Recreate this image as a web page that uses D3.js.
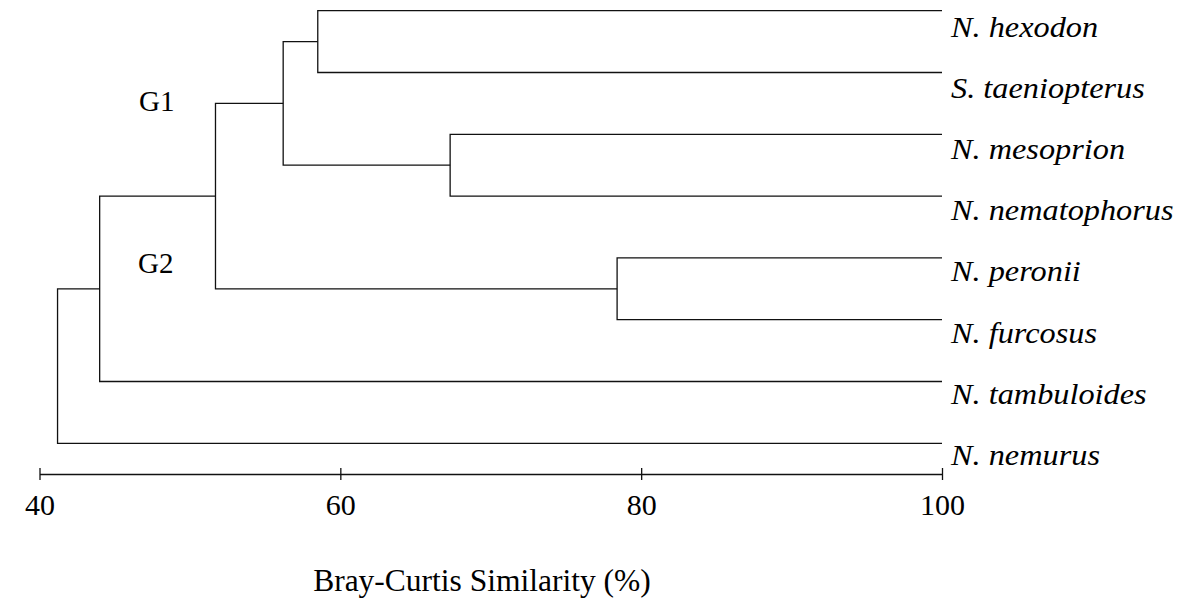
<!DOCTYPE html>
<html>
<head>
<meta charset="utf-8">
<script src="https://cdn.jsdelivr.net/npm/d3@7"></script>
<style>
  html, body { margin: 0; padding: 0; background: #fff; }
  svg { display: block; }
  svg text { font-family: "Times New Roman", "Liberation Serif", Times, serif; }
</style>
</head>
<body>
<div id="chart"></div>
<script>
// species (leaf order top -> bottom)
const species = ['N. hexodon', 'S. taeniopterus', 'N. mesoprion', 'N. nematophorus',
  'N. peronii', 'N. furcosus', 'N. tambuloides', 'N. nemurus']

// merges: upper cluster id, lower cluster id, similarity %
// leaves are ids 0..7, every merge gets the next id (8, 9, ...)
const mergeUpper = [0, 2, 4, 8, 11, 12, 13]
const mergeLower = [1, 3, 5, 9, 10, 6, 7]
const mergeSim = [58.5, 67.3, 78.4, 56.2, 51.7, 44.0, 41.2]

const groupLabels = ['G1', 'G2']
const tickValues = [40, 60, 80, 100]
const axisTitle = 'Bray-Curtis Similarity (%)'

const width = 1180
const height = 604

const svg = d3.select('#chart').append('svg')
  .attr('width', width)
  .attr('height', height)

const x = d3.scaleLinear().domain([40, 100]).range([39.5, 942])
const yLeaf = d3.scalePoint().domain(species).range([10.7, 443.3])
const yLabel = d3.scalePoint().domain(species).range([36.5, 465])

// cluster positions
const nodes = species.map(s => ({ x: x(100), y: yLeaf(s) }))
mergeSim.forEach((sim, i) => {
  const a = nodes[mergeUpper[i]]
  const b = nodes[mergeLower[i]]
  nodes.push({ x: x(sim), y: (a.y + b.y) / 2, a, b })
})

const gLink = svg.append('g')
  .attr('fill', 'none')
  .attr('stroke', '#111')
  .attr('stroke-width', 1.3)

gLink.selectAll('path')
  .data(nodes.filter(d => d.a))
  .join('path')
  .attr('d', d => `M${d.a.x},${d.a.y}H${d.x}V${d.b.y}H${d.b.x}`)

// species labels (a bit wider than normal, as in the source figure)
svg.append('g')
  .selectAll('text')
  .data(species)
  .join('text')
  .attr('transform', d => `translate(951,${yLabel(d)}) scale(1.06,1)`)
  .style('font-size', '30.5px')
  .style('font-style', 'italic')
  .text(d => d)

// group labels
svg.append('g')
  .selectAll('text')
  .data(groupLabels)
  .join('text')
  .attr('x', (d, i) => i ? 138 : 139)
  .attr('y', (d, i) => i ? 273 : 111)
  .style('font-size', '29px')
  .text(d => d)

// axis
const axis = svg.append('g')
  .attr('transform', 'translate(0,474)')
  .call(d3.axisBottom(x).tickValues(tickValues).tickSizeOuter(0).tickSizeInner(6).tickPadding(0))

axis.attr('font-family', null)
axis.select('.domain').attr('stroke', '#111').attr('stroke-width', 1.3)
axis.selectAll('.tick line').attr('y1', -6).attr('y2', 6).attr('stroke', '#111').attr('stroke-width', 1.3)
axis.selectAll('.tick text')
  .attr('y', 41)
  .attr('dy', null)
  .attr('fill', '#000')
  .style('font-size', '30px')

svg.append('text')
  .attr('x', 482)
  .attr('y', 591)
  .attr('text-anchor', 'middle')
  .style('font-size', '31.5px')
  .text(axisTitle)
</script>
</body>
</html>
